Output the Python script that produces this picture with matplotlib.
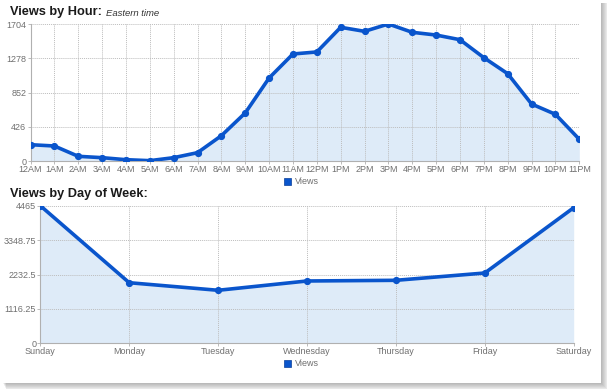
import matplotlib
matplotlib.use("Agg")
import matplotlib.pyplot as plt
from matplotlib.patches import Rectangle
import numpy as np

hours = ["12AM", "1AM", "2AM", "3AM", "4AM", "5AM", "6AM", "7AM", "8AM", "9AM", "10AM", "11AM",
         "12PM", "1PM", "2PM", "3PM", "4PM", "5PM", "6PM", "7PM", "8PM", "9PM", "10PM", "11PM"]
hour_views = [206, 190, 62, 45, 20, 8, 45, 107, 318, 600, 1034, 1332,
              1357, 1663, 1613, 1704, 1601, 1567, 1509, 1286, 1087, 711, 583, 273]
hour_yticks = [0, 426, 852, 1278, 1704]
hour_ylabels = ["0", "426", "852", "1278", "1704"]

days = ["Sunday", "Monday", "Tuesday", "Wednesday", "Thursday", "Friday", "Saturday"]
day_views = [4465, 1966, 1720, 2022, 2044, 2281, 4400]
day_yticks = [0, 1116.25, 2232.5, 3348.75, 4465]
day_ylabels = ["0", "1116.25", "2232.5", "3348.75", "4465"]

W, H = 607, 392
fig = plt.figure(figsize=(W / 100, H / 100), dpi=100)
fig.patch.set_facecolor("white")

FONT = "Liberation Sans"

# card shadow (soft, offset right/bottom)
CW, CH = 601, 383
for i in range(7):
    a = 0.06
    off = 1 + i * 0.9
    fig.patches.append(Rectangle(((3 + i * 0.5) / W, 1 - (CH + off) / H), (CW - 3 + off - i * 0.5) / W,
                                 (CH + off - 3) / H, transform=fig.transFigure,
                                 facecolor=(0.25, 0.25, 0.25, a), edgecolor="none", zorder=0))
fig.patches.append(Rectangle((0, 1 - CH / H), CW / W, CH / H, transform=fig.transFigure,
                             facecolor="white", edgecolor="none", zorder=1))

LINE = "#0a55cc"
FILL = "#deebf8"
GRID = "#bdbdbd"
AX = "#b0b0b0"
TXT = "#707070"


def setup(ax, x, y, labels, yticks, ylabels):
    ax.set_zorder(5)
    ax.patch.set_alpha(0)
    ax.fill_between(x, y, 0, color=FILL, zorder=1, linewidth=0)
    ax.plot(x, y, color=LINE, lw=2.6, marker="o", ms=4.2, zorder=3, solid_capstyle="round")
    ax.set_xlim(x[0], x[-1])
    ax.set_ylim(0, yticks[-1])
    ax.set_xticks(x)
    ax.set_xticklabels(labels, fontsize=6.5, color=TXT, family=FONT)
    ax.set_yticks(yticks)
    ax.set_yticklabels(ylabels, fontsize=6.5, color=TXT, family=FONT)
    ax.tick_params(length=2, width=0.6, color=AX, pad=1)
    ax.grid(True, color=GRID, lw=0.7, ls=(0, (1, 1)), zorder=0)
    for s in ["top", "right"]:
        ax.spines[s].set_visible(False)
    for s in ["left", "bottom"]:
        ax.spines[s].set_color(AX)
        ax.spines[s].set_linewidth(0.8)


def add_legend(x0, cy):
    fig.patches.append(Rectangle((x0 / W, 1 - (cy + 3.5) / H), 7 / W, 7 / H,
                                 transform=fig.transFigure, facecolor=LINE, edgecolor="#0a3f99",
                                 lw=0.5, zorder=6))
    fig.text((x0 + 11) / W, 1 - cy / H, "Views", fontsize=6.5, color=TXT, va="center", ha="left",
             family=FONT)


# top chart
ax1 = fig.add_axes([30.5 / W, 1 - 161.3 / H, (579.3 - 30.5) / W, (161.3 - 24) / H])
setup(ax1, np.arange(len(hours)), hour_views, hours, hour_yticks, hour_ylabels)
fig.text(10 / W, 1 - 12.5 / H, "Views by Hour:", fontsize=9.2, fontweight="bold", color="#1a1a1a",
         va="center", ha="left", family=FONT)
fig.text(106 / W, 1 - 13 / H, "Eastern time", fontsize=6.8, style="italic", color="#333333",
         va="center", ha="left", family=FONT)
add_legend(284, 181.5)

# bottom chart
ax2 = fig.add_axes([40.3 / W, 1 - 343.3 / H, (573.7 - 40.3) / W, (343.3 - 205.7) / H])
setup(ax2, np.arange(len(days)), day_views, days, day_yticks, day_ylabels)
fig.text(10 / W, 1 - 194.5 / H, "Views by Day of Week:", fontsize=9.2, fontweight="bold", color="#1a1a1a",
         va="center", ha="left", family=FONT)
add_legend(284, 363)

fig.savefig("out.png", dpi=100)
